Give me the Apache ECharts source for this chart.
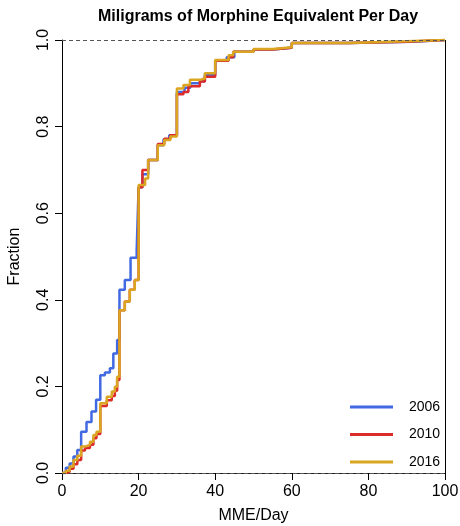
<!DOCTYPE html>
<html>
<head>
<meta charset="utf-8">
<script src="https://cdn.jsdelivr.net/npm/echarts@6/dist/echarts.min.js"></script>
<style>html,body{margin:0;padding:0;background:#fff}#c{width:460px;height:526px}</style>
</head>
<body>
<div id="c"></div>
<script>
// ECDF knots (MME/Day) and cumulative fractions
const x2006 = [0, 1, 2, 3, 4, 5, 6.4, 7.7, 8.9, 10, 11.2, 12.5, 13.4, 14.4, 15, 16.4, 17.9, 19.5, 20, 21, 22.5, 25, 26.5, 28, 30, 32, 33.5, 36, 37.3, 40, 43, 45, 50, 55, 60, 75, 91.5, 100];
const f2006 = [0, 0.012, 0.022, 0.038, 0.053, 0.095, 0.118, 0.142, 0.169, 0.226, 0.232, 0.242, 0.276, 0.307, 0.423, 0.446, 0.497, 0.515, 0.66, 0.69, 0.723, 0.757, 0.77, 0.78, 0.88, 0.89, 0.9, 0.905, 0.92, 0.952, 0.96, 0.973, 0.978, 0.982, 0.993, 0.996, 1.0, 1.0];

const x2010 = [0, 1, 2, 3, 4, 5, 6, 7.3, 8.2, 9, 10, 11.7, 13, 13.8, 14.4, 15, 16.4, 17.7, 19, 20, 21, 22.5, 25, 26.7, 28.3, 30, 31.7, 33, 36, 37.3, 40, 43.5, 44.7, 50, 55, 60, 75, 90, 100];
const f2010 = [0, 0.003, 0.01, 0.02, 0.03, 0.052, 0.058, 0.065, 0.08, 0.09, 0.155, 0.168, 0.178, 0.19, 0.215, 0.376, 0.396, 0.423, 0.446, 0.66, 0.70, 0.723, 0.76, 0.772, 0.78, 0.875, 0.88, 0.893, 0.904, 0.915, 0.952, 0.96, 0.973, 0.978, 0.982, 0.993, 0.996, 1.0, 1.0];

const x2016 = [0, 1, 2, 3, 4, 5, 6, 7.3, 8.2, 9, 10, 11.7, 13, 13.8, 14.4, 15, 16.4, 17.7, 19, 20, 21.7, 22.5, 25, 26.7, 28.3, 30, 31.7, 33.4, 36, 37.3, 40, 43.5, 44.7, 50, 55, 60, 75, 90, 100];
const f2016 = [0, 0.005, 0.015, 0.03, 0.04, 0.061, 0.065, 0.072, 0.088, 0.095, 0.161, 0.176, 0.188, 0.199, 0.222, 0.376, 0.396, 0.423, 0.446, 0.665, 0.68, 0.723, 0.757, 0.769, 0.777, 0.888, 0.896, 0.908, 0.911, 0.923, 0.954, 0.965, 0.973, 0.979, 0.983, 0.993, 0.997, 1.0, 1.0];

const seriesNames = ['2006', '2010', '2016'];
const xTicks = [0, 20, 40, 60, 80, 100];
const yTicks = [0, 0.2, 0.4, 0.6, 0.8, 1.0];

const FONT = '"Liberation Sans", Arial, Helvetica, sans-serif';
const colors = ['#4169E1', '#DC2B2B', '#DAA520'];
const zip = (xs, ys) => xs.map((x, i) => [x, ys[i]]);

const chart = echarts.init(document.getElementById('c'), null, {renderer: 'canvas'});
const mkSeries = (name, data, color, z) => ({
  name, type: 'line', step: 'end', data, showSymbol: false, symbol: 'none',
  lineStyle: {color, width: 2.5}, itemStyle: {color}, z, animation: false
});
const s0 = mkSeries(seriesNames[0], zip(x2006, f2006), colors[0], 2);
s0.markLine = {
  silent: true, symbol: 'none', label: {show: false},
  lineStyle: {color: '#555', type: [4, 3], width: 1},
  data: [{yAxis: 0}, {yAxis: 1}]
};
const s1 = mkSeries(seriesNames[1], zip(x2010, f2010), colors[1], 3);
s1.markLine = {
  silent: true, symbol: 'none', label: {show: false},
  lineStyle: {color: '#000', type: 'solid', width: 1},
  data: [{xAxis: 100}]
};
chart.setOption({
  animation: false,
  backgroundColor: '#fff',
  title: {
    text: 'Miligrams of Morphine Equivalent Per Day',
    left: 253, top: 4, textAlign: 'center',
    textStyle: {fontFamily: FONT, fontSize: 16, fontWeight: 'bold', color: '#000'}
  },
  grid: {left: 62, right: 15, top: 40, bottom: 53, containLabel: false, outerBoundsMode: 'none'},
  legend: {
    data: seriesNames, orient: 'vertical', left: 345, top: 395,
    icon: 'rect', itemWidth: 43, itemHeight: 3, itemGap: 13.5,
    textStyle: {fontFamily: FONT, fontSize: 14, color: '#000', padding: [0, 0, 0, 11], lineHeight: 14}
  },
  xAxis: [{
    type: 'value', min: 0, max: 100, interval: 20,
    name: 'MME/Day', nameLocation: 'middle', nameGap: 35,
    nameTextStyle: {fontFamily: FONT, fontSize: 16, color: '#000'},
    axisLine: {show: true, onZero: false, lineStyle: {color: '#222', width: 1}},
    axisTick: {show: true, length: 7, inside: false, lineStyle: {color: '#000'}},
    axisLabel: {fontFamily: FONT, fontSize: 16, color: '#000', margin: 11,
      formatter: v => xTicks.includes(v) ? String(v) : ''},
    splitLine: {show: false}
  }],
  yAxis: [{
    type: 'value', min: 0, max: 1, interval: 0.2,
    name: 'Fraction', nameLocation: 'middle', nameGap: 39, nameRotate: 90,
    nameTextStyle: {fontFamily: FONT, fontSize: 16, color: '#000'},
    axisLine: {show: true, onZero: false, lineStyle: {color: '#000', width: 1}},
    axisTick: {show: true, length: 7, lineStyle: {color: '#000'}},
    axisLabel: {fontFamily: FONT, fontSize: 16, color: '#000', rotate: 90, margin: 10,
      formatter: v => yTicks.some(t => Math.abs(t - v) < 1e-9) ? v.toFixed(1) : ''},
    splitLine: {show: false}
  }],
  series: [
    s0,
    s1,
    mkSeries(seriesNames[2], zip(x2016, f2016), colors[2], 4)
  ]
});
</script>
</body>
</html>
